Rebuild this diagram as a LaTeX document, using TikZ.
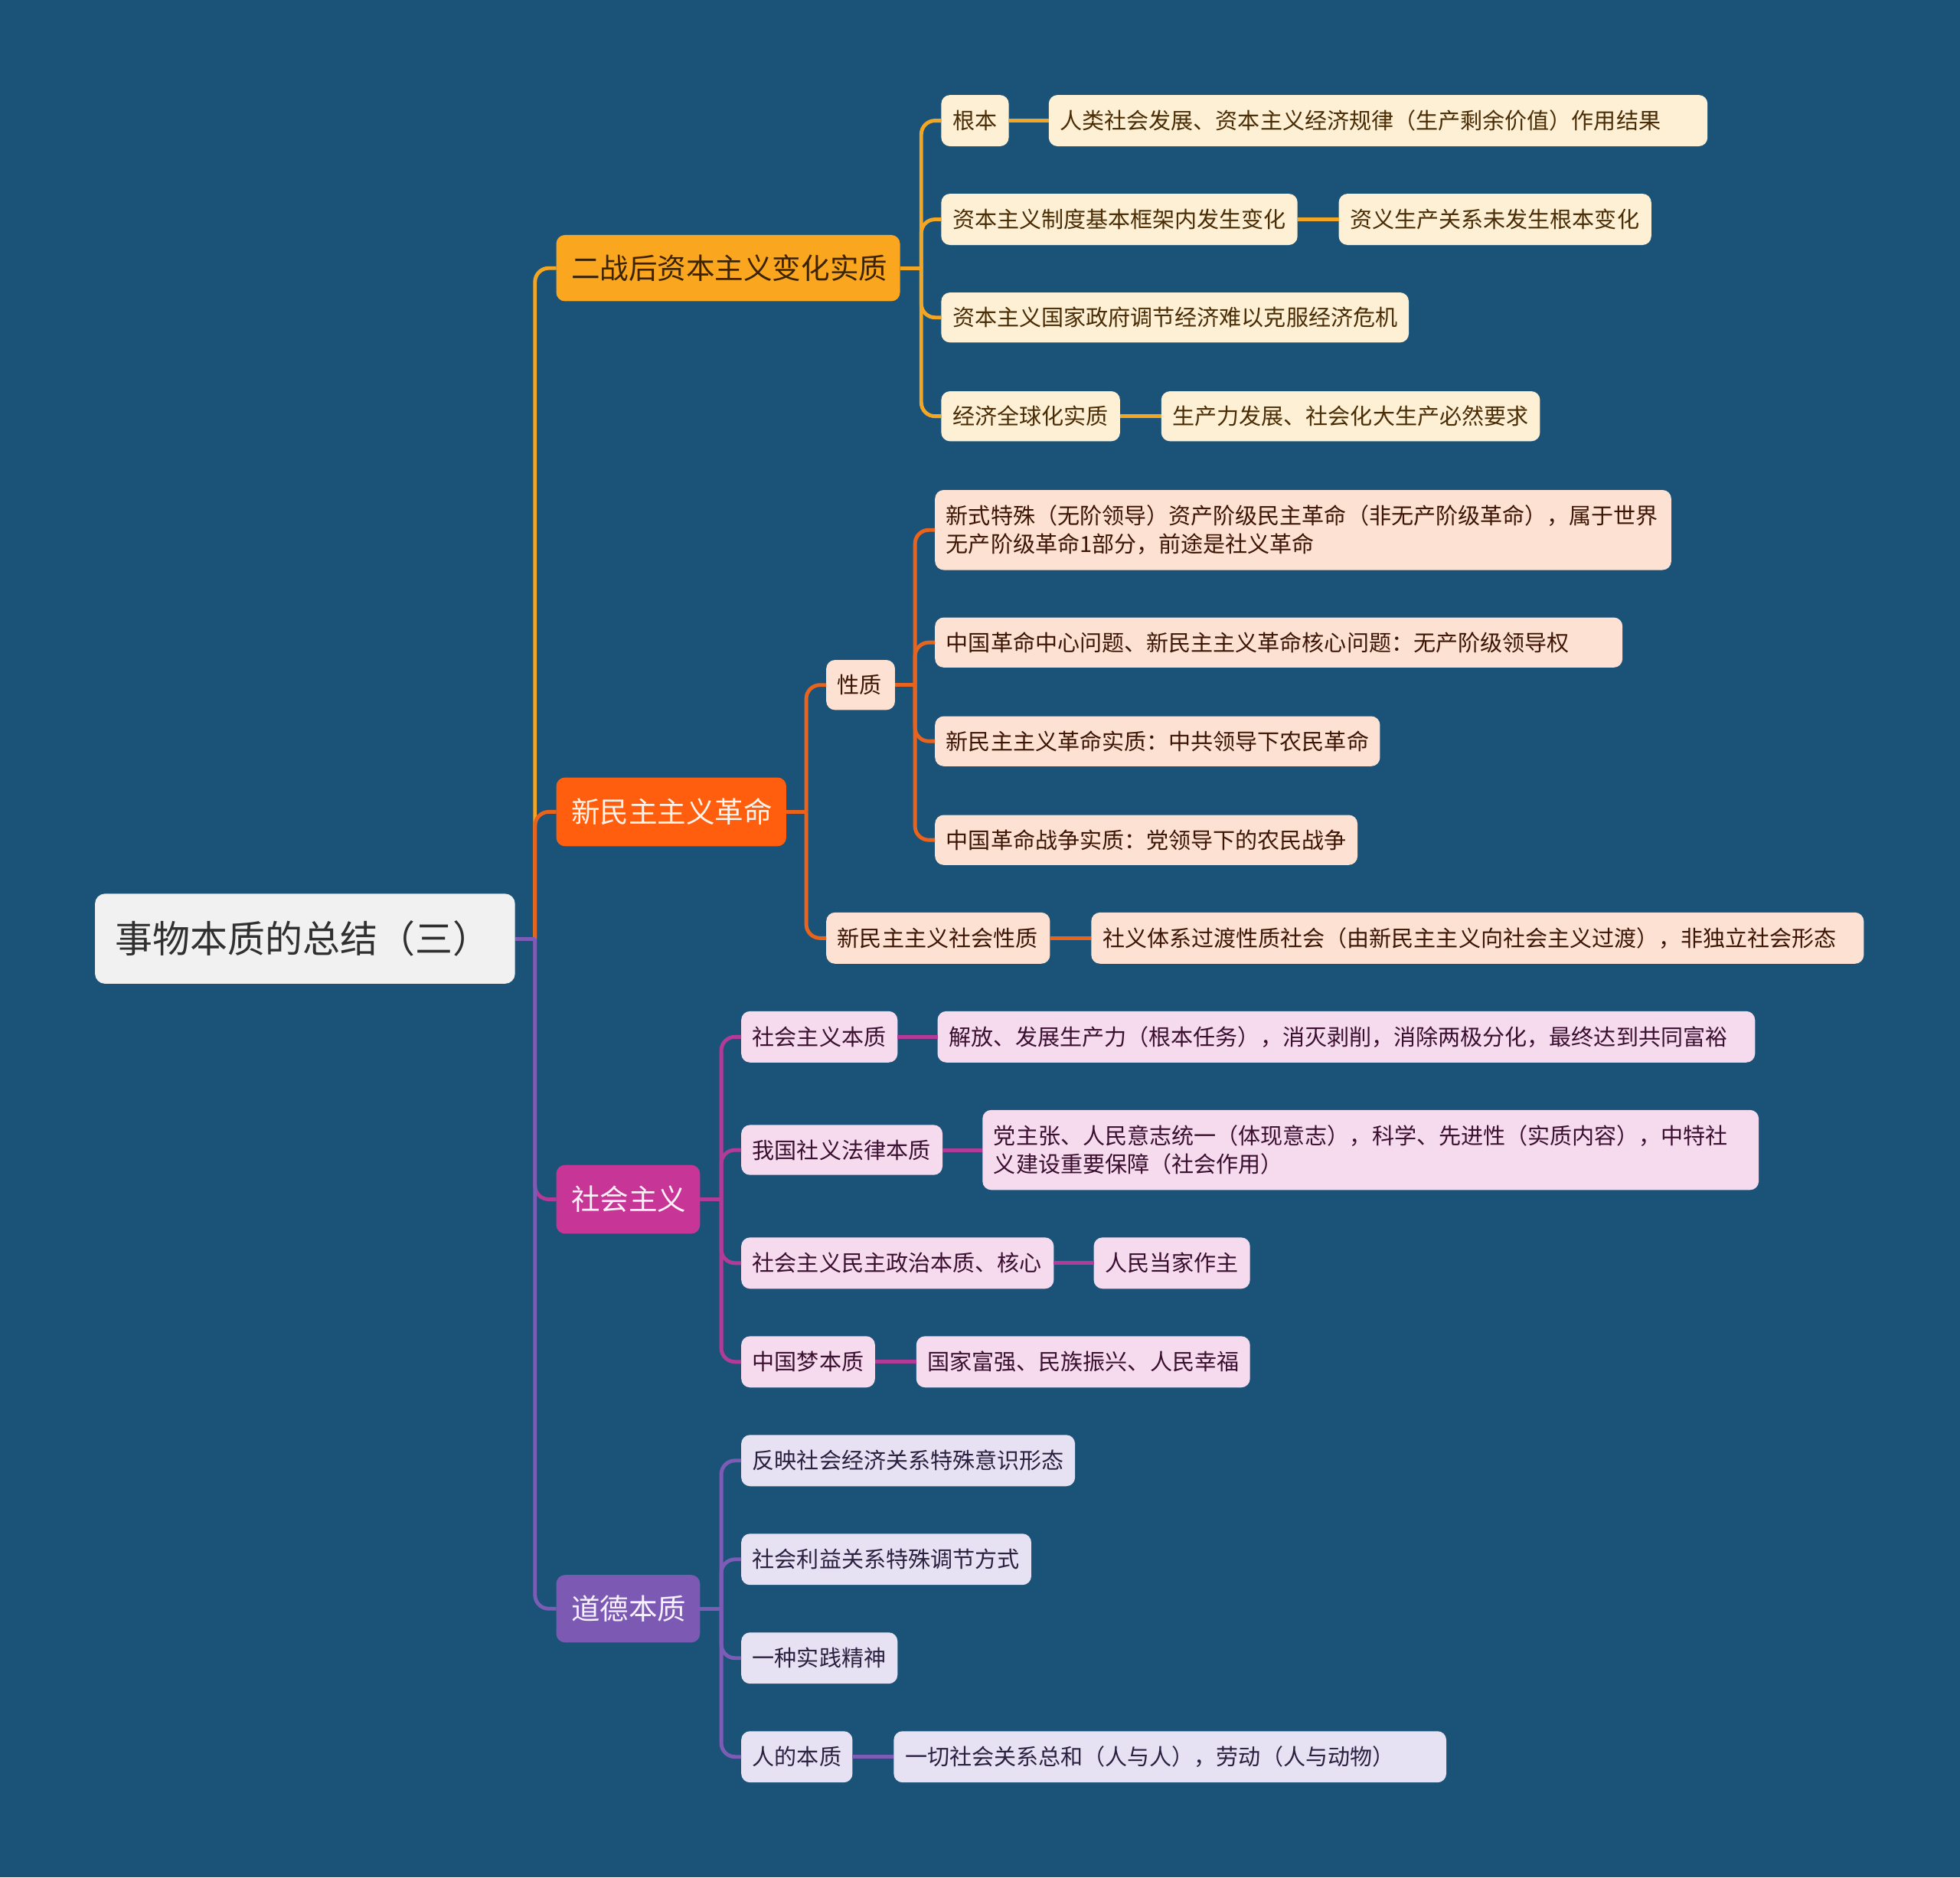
\documentclass[tikz,border=0pt]{standalone}
\usepackage{fontspec}
\setmainfont{Noto Sans CJK SC}
\definecolor{bgc}{HTML}{1A5377}
\definecolor{rootf}{HTML}{F1F1F1}
\definecolor{roott}{HTML}{303030}
\definecolor{bAf}{HTML}{FBA61F}
\definecolor{bAt}{HTML}{3B2300}
\definecolor{cAf}{HTML}{FEF0D5}
\definecolor{cAt}{HTML}{4A2C05}
\definecolor{lA}{HTML}{F3A524}
\definecolor{bBf}{HTML}{FF5E0E}
\definecolor{bBt}{HTML}{FFF3EA}
\definecolor{cBf}{HTML}{FDE1D2}
\definecolor{cBt}{HTML}{3D1505}
\definecolor{lB}{HTML}{E8641E}
\definecolor{bCf}{HTML}{C73597}
\definecolor{bCt}{HTML}{FFF0FA}
\definecolor{cCf}{HTML}{F6DAEE}
\definecolor{cCt}{HTML}{3A0F30}
\definecolor{lC}{HTML}{B23B97}
\definecolor{bDf}{HTML}{7C5AB4}
\definecolor{bDt}{HTML}{F6F0FF}
\definecolor{cDf}{HTML}{E7E2F3}
\definecolor{cDt}{HTML}{2A2040}
\definecolor{lD}{HTML}{7D5CB6}
\tikzset{
  basebox/.style={rounded corners=7pt, inner ysep=0pt, align=left, outer sep=0pt},
  rootbox/.style={basebox, fill=rootf, text=roott, font=\fontsize{30}{36}\selectfont, rounded corners=8pt},
  brA/.style={basebox, fill=bAf, text=bAt, font=\fontsize{23}{28}\selectfont},
  brB/.style={basebox, fill=bBf, text=bBt, font=\fontsize{23}{28}\selectfont},
  brC/.style={basebox, fill=bCf, text=bCt, font=\fontsize{23}{28}\selectfont},
  brD/.style={basebox, fill=bDf, text=bDt, font=\fontsize{23}{28}\selectfont},
  chA/.style={basebox, fill=cAf, text=cAt, font=\fontsize{17.8}{23}\selectfont},
  chB/.style={basebox, fill=cBf, text=cBt, font=\fontsize{17.8}{23}\selectfont},
  chC/.style={basebox, fill=cCf, text=cCt, font=\fontsize{17.8}{23}\selectfont},
  chD/.style={basebox, fill=cDf, text=cDt, font=\fontsize{17.8}{23}\selectfont},
  conn/.style={line width=3pt, rounded corners=11pt},
}
% name, style, pad, x1, y1, x2, y2, text
\newcommand\bx[8]{%
  \pgfmathsetmacro\bxw{#6-#4-2*#3}%
  \pgfmathsetmacro\bxh{#7-#5}%
  \pgfmathsetmacro\bxy{-(#5+#7)/2}%
  \node[#2, inner xsep=#3pt, text width=\bxw pt, minimum height=\bxh pt, anchor=west] (#1) at (#4pt,\bxy pt) {#8};}
\begin{document}
\begin{tikzpicture}
\fill[bgc] (0pt,0pt) rectangle (1568pt,-1502pt);
\useasboundingbox (0pt,0pt) rectangle (1568pt,-1502pt);

% root
\bx{root}{rootbox}{16}{76}{715}{412}{787}{事物本质的总结（三）}
% branches
\bx{bA}{brA}{12}{445}{188}{720}{241}{二战后资本主义变化实质}
\bx{bB}{brB}{12}{445}{622}{629}{677}{新民主主义革命}
\bx{bC}{brC}{12}{445}{932}{560}{987}{社会主义}
\bx{bD}{brD}{12}{445}{1260}{560}{1314}{道德本质}

% branch A children
\bx{a1}{chA}{9}{753}{76}{807}{117}{根本}
\bx{a1x}{chA}{9}{839}{76}{1366}{117}{人类社会发展、资本主义经济规律（生产剩余价值）作用结果}
\bx{a2}{chA}{9}{753}{155}{1038}{196}{资本主义制度基本框架内发生变化}
\bx{a2x}{chA}{9}{1071}{155}{1321}{196}{资义生产关系未发生根本变化}
\bx{a3}{chA}{9}{753}{234}{1127}{274}{资本主义国家政府调节经济难以克服经济危机}
\bx{a4}{chA}{9}{753}{313}{896}{353}{经济全球化实质}
\bx{a4x}{chA}{9}{929}{313}{1232}{353}{生产力发展、社会化大生产必然要求}

% branch B children
\bx{b1}{chB}{9}{661}{528}{716}{568}{性质}
\bx{b11}{chB}{9}{748}{392}{1337}{456}{新式特殊（无阶领导）资产阶级民主革命（非无产阶级革命），属于世界\\无产阶级革命1部分，前途是社义革命}
\bx{b12}{chB}{9}{748}{494}{1298}{534}{中国革命中心问题、新民主主义革命核心问题：无产阶级领导权}
\bx{b13}{chB}{9}{748}{573}{1104}{613}{新民主主义革命实质：中共领导下农民革命}
\bx{b14}{chB}{9}{748}{652}{1086}{692}{中国革命战争实质：党领导下的农民战争}
\bx{b2}{chB}{9}{661}{730}{840}{771}{新民主主义社会性质}
\bx{b2x}{chB}{9}{873}{730}{1491}{771}{社义体系过渡性质社会（由新民主主义向社会主义过渡），非独立社会形态}

% branch C children
\bx{c1}{chC}{9}{593}{809}{718}{850}{社会主义本质}
\bx{c1x}{chC}{9}{750}{809}{1404}{850}{解放、发展生产力（根本任务），消灭剥削，消除两极分化，最终达到共同富裕}
\bx{c2}{chC}{9}{593}{900}{754}{940}{我国社义法律本质}
\bx{c2x}{chC}{9}{786}{888}{1407}{952}{党主张、人民意志统一（体现意志），科学、先进性（实质内容），中特社\\义建设重要保障（社会作用）}
\bx{c3}{chC}{9}{593}{990}{843}{1031}{社会主义民主政治本质、核心}
\bx{c3x}{chC}{9}{875}{990}{1000}{1031}{人民当家作主}
\bx{c4}{chC}{9}{593}{1069}{700}{1110}{中国梦本质}
\bx{c4x}{chC}{9}{733}{1069}{1000}{1110}{国家富强、民族振兴、人民幸福}

% branch D children
\bx{d1}{chD}{9}{593}{1148}{860}{1189}{反映社会经济关系特殊意识形态}
\bx{d2}{chD}{9}{593}{1227}{825}{1268}{社会利益关系特殊调节方式}
\bx{d3}{chD}{9}{593}{1306}{718}{1347}{一种实践精神}
\bx{d4}{chD}{9}{593}{1385}{682}{1426}{人的本质}
\bx{d4x}{chD}{9}{715}{1385}{1157}{1426}{一切社会关系总和（人与人），劳动（人与动物）}

% junction coordinates
\coordinate (j0) at ([xshift=16pt]root.east);
\coordinate (jA) at ([xshift=17pt]bA.east);
\coordinate (jB) at ([xshift=16pt]bB.east);
\coordinate (jB1) at ([xshift=16pt]b1.east);
\coordinate (jC) at ([xshift=17pt]bC.east);
\coordinate (jD) at ([xshift=17pt]bD.east);

\begin{scope}[on background layer/.style={}]
% root to branches
\draw[conn, lA] (j0) |- (bA.west);
\draw[conn, lB] (j0) |- (bB.west);
\draw[conn, lC] (j0) |- (bC.west);
\draw[conn, lD] (j0) |- (bD.west);
\draw[line width=3pt, lD] (root.east) -- (j0);

% branch A
\draw[line width=3pt, lA] (bA.east) -- (jA);
\foreach \n in {a1,a2,a3,a4} \draw[conn, lA] (jA) |- (\n.west);
\draw[line width=3pt, lA] (a1.east) -- (a1x.west);
\draw[line width=3pt, lA] (a2.east) -- (a2x.west);
\draw[line width=3pt, lA] (a4.east) -- (a4x.west);

% branch B
\draw[line width=3pt, lB] (bB.east) -- (jB);
\foreach \n in {b1,b2} \draw[conn, lB] (jB) |- (\n.west);
\draw[line width=3pt, lB] (b1.east) -- (jB1);
\foreach \n in {b11,b12,b13,b14} \draw[conn, lB] (jB1) |- (\n.west);
\draw[line width=3pt, lB] (b2.east) -- (b2x.west);

% branch C
\draw[line width=3pt, lC] (bC.east) -- (jC);
\foreach \n in {c1,c2,c3,c4} \draw[conn, lC] (jC) |- (\n.west);
\draw[line width=3pt, lC] (c1.east) -- (c1x.west);
\draw[line width=3pt, lC] (c2.east) -- (c2x.west);
\draw[line width=3pt, lC] (c3.east) -- (c3x.west);
\draw[line width=3pt, lC] (c4.east) -- (c4x.west);

% branch D
\draw[line width=3pt, lD] (bD.east) -- (jD);
\foreach \n in {d1,d2,d3,d4} \draw[conn, lD] (jD) |- (\n.west);
\draw[line width=3pt, lD] (d4.east) -- (d4x.west);
\end{scope}
\end{tikzpicture}
\end{document}
